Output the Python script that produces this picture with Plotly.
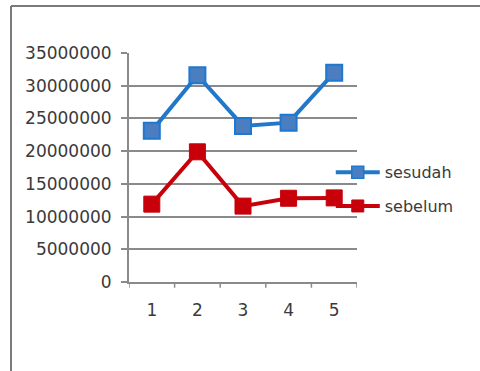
import plotly.graph_objects as go

# Categories and series values
periode = [1, 2, 3, 4, 5]
sesudah = [23100000, 31600000, 23850000, 24350000, 32000000]
sebelum = [11900000, 19900000, 11600000, 12800000, 12850000]
y_ticks = [0, 5000000, 10000000, 15000000, 20000000, 25000000, 30000000, 35000000]

W, H = 480, 371
L, R, T, B = 129, 123, 53, 89

BLUE_LINE, BLUE_FILL = "#2278C8", "#4A7EC0"
RED = "#C8000A"

fig = go.Figure()
fig.add_trace(go.Scatter(
    x=periode, y=sesudah, name="sesudah", mode="lines+markers",
    line=dict(color=BLUE_LINE, width=4),
    marker=dict(symbol="square", size=16, color=BLUE_FILL,
                line=dict(color="#1E78D0", width=2)),
    showlegend=False,
))
fig.add_trace(go.Scatter(
    x=periode, y=sebelum, name="sebelum", mode="lines+markers",
    line=dict(color=RED, width=4),
    marker=dict(symbol="square", size=16, color=RED,
                line=dict(color=RED, width=1)),
    showlegend=False,
))
# legend entries with a smaller key marker
fig.add_trace(go.Scatter(
    x=[None], y=[None], name="sesudah", mode="lines+markers",
    line=dict(color=BLUE_LINE, width=4),
    marker=dict(symbol="square", size=12, color=BLUE_FILL,
                line=dict(color="#1E78D0", width=1.5)),
    legendgroup="a",
))
fig.add_trace(go.Scatter(
    x=[None], y=[None], name="sebelum", mode="lines+markers",
    line=dict(color=RED, width=4),
    marker=dict(symbol="square", size=12, color=RED,
                line=dict(color=RED, width=1)),
    legendgroup="b",
))

grid = "#8A8A8A"
fig.update_layout(
    width=W, height=H,
    margin=dict(l=L, r=R, t=T, b=B, pad=0),
    paper_bgcolor="white", plot_bgcolor="white",
    font=dict(family="DejaVu Sans", size=17, color="#3A3A3A"),
    showlegend=True,
    legend=dict(x=0.885, y=0.405, xanchor="left", yanchor="middle",
                bgcolor="rgba(0,0,0,0)", tracegroupgap=10,
                font=dict(size=16, color="#3A3A3A"), itemwidth=44),
    xaxis=dict(
        range=[0.5, 5.5], tickmode="array", tickvals=periode,
        ticktext=[str(p) for p in periode],
        showgrid=False, zeroline=False,
        showline=True, linecolor=grid, linewidth=2,
        ticks="", ticklabelstandoff=12, fixedrange=True,
    ),
    yaxis=dict(
        range=[0, 35000000], tickmode="array", tickvals=y_ticks,
        ticktext=[str(v) for v in y_ticks],
        showgrid=True, gridcolor=grid, gridwidth=1.5,
        zeroline=False, showline=True, linecolor=grid, linewidth=2,
        ticks="outside", ticklen=6, tickcolor=grid, tickwidth=1.5,
        ticklabelstandoff=6,
    ),
)

# category separators below the x axis
for k in range(6):
    fig.add_shape(type="line", xref="x", yref="paper",
                  x0=0.5 + k, x1=0.5 + k, y0=0, y1=-0.025,
                  line=dict(color=grid, width=1.5))

# outer chart frame: top and left edges only
pw, ph = W - L - R, H - T - B
fx0, fy1 = (11 - L) / pw, (H - 6 - B) / ph
fig.add_shape(type="line", xref="paper", yref="paper",
              x0=fx0, x1=(W - L) / pw, y0=fy1, y1=fy1,
              line=dict(color="#7A7A7A", width=2), layer="below")
fig.add_shape(type="line", xref="paper", yref="paper",
              x0=fx0, x1=fx0, y0=-B / ph, y1=fy1,
              line=dict(color="#7A7A7A", width=2), layer="below")

fig.write_html("out.html")
